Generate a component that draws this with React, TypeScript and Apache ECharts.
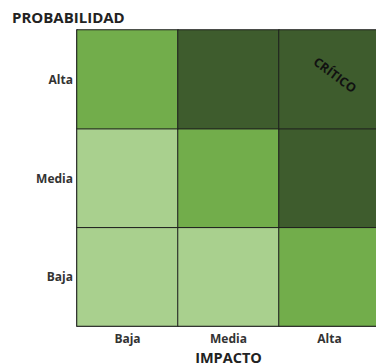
import React, { useEffect, useRef } from "react";
import * as echarts from "echarts";

const impactCategories = ["Baja", "Media", "Alta"];
const probabilityCategories = ["Baja", "Media", "Alta"];
// risk level per [impactIndex, probabilityIndex]: 1 = bajo, 2 = medio, 3 = crítico
const riskLevels: [number, number, number][] = [
  [0, 0, 1], [1, 0, 1], [2, 0, 2],
  [0, 1, 1], [1, 1, 2], [2, 1, 3],
  [0, 2, 2], [1, 2, 3], [2, 2, 3],
];
const levelColors = ["#a9d08e", "#72ad4b", "#3e5c2d"];
const criticalLabel = "CRÍTICO";

export default function App() {
  const ref = useRef<HTMLDivElement>(null);
  useEffect(() => {
    if (!ref.current) return;
    const chart = echarts.init(ref.current, null, { renderer: "svg" });
    const font = "'Open Sans', 'Noto Sans', sans-serif";
    chart.setOption({
      animation: false,
      textStyle: { fontFamily: font },
      grid: { left: 77, top: 30, width: 303, height: 296, outerBoundsMode: "none", containLabel: false },
      visualMap: {
        show: false,
        type: "piecewise",
        dimension: 2,
        pieces: [
          { value: 1, color: levelColors[0] },
          { value: 2, color: levelColors[1] },
          { value: 3, color: levelColors[2] },
        ],
      },
      xAxis: {
        type: "category",
        data: impactCategories,
        name: "IMPACTO",
        nameLocation: "middle",
        nameGap: 24,
        nameTextStyle: { fontFamily: font, fontWeight: "bold", fontSize: 14.5, color: "#222" },
        axisLine: { show: true, lineStyle: { color: "#6b6b6b", width: 2 } },
        axisTick: { show: false },
        axisLabel: { fontFamily: font, fontWeight: "bold", fontSize: 12, color: "#333", margin: 6 },
        splitLine: { show: false },
      },
      yAxis: {
        type: "category",
        data: probabilityCategories,
        axisLine: { show: true, lineStyle: { color: "#6b6b6b", width: 2 } },
        axisTick: { show: false },
        axisLabel: { fontFamily: font, fontWeight: "bold", fontSize: 12, color: "#333", margin: 4 },
        splitLine: { show: false },
      },
      series: [
        {
          type: "heatmap",
          data: riskLevels,
          itemStyle: { borderColor: "#1e1e1e", borderWidth: 1 },
          label: { show: false },
          emphasis: { disabled: true },
        },
      ],
      graphic: [
        {
          type: "text",
          left: 12,
          top: 9,
          z: 100,
          style: { text: "PROBABILIDAD", fontFamily: font, fontWeight: "bold", fontSize: 15, fill: "#222" },
        },
        {
          type: "text",
          x: 335,
          y: 75,
          z: 100,
          rotation: -0.64,
          style: {
            text: criticalLabel,
            fontFamily: font,
            fontWeight: "bold",
            fontSize: 12.5,
            fill: "#111",
            align: "center",
            verticalAlign: "middle",
          },
        },
      ],
    });
    return () => chart.dispose();
  }, []);
  return <div ref={ref} style={{ position: "fixed", left: 0, top: 0, width: 376, height: 364, background: "#fff" }} />;
}
